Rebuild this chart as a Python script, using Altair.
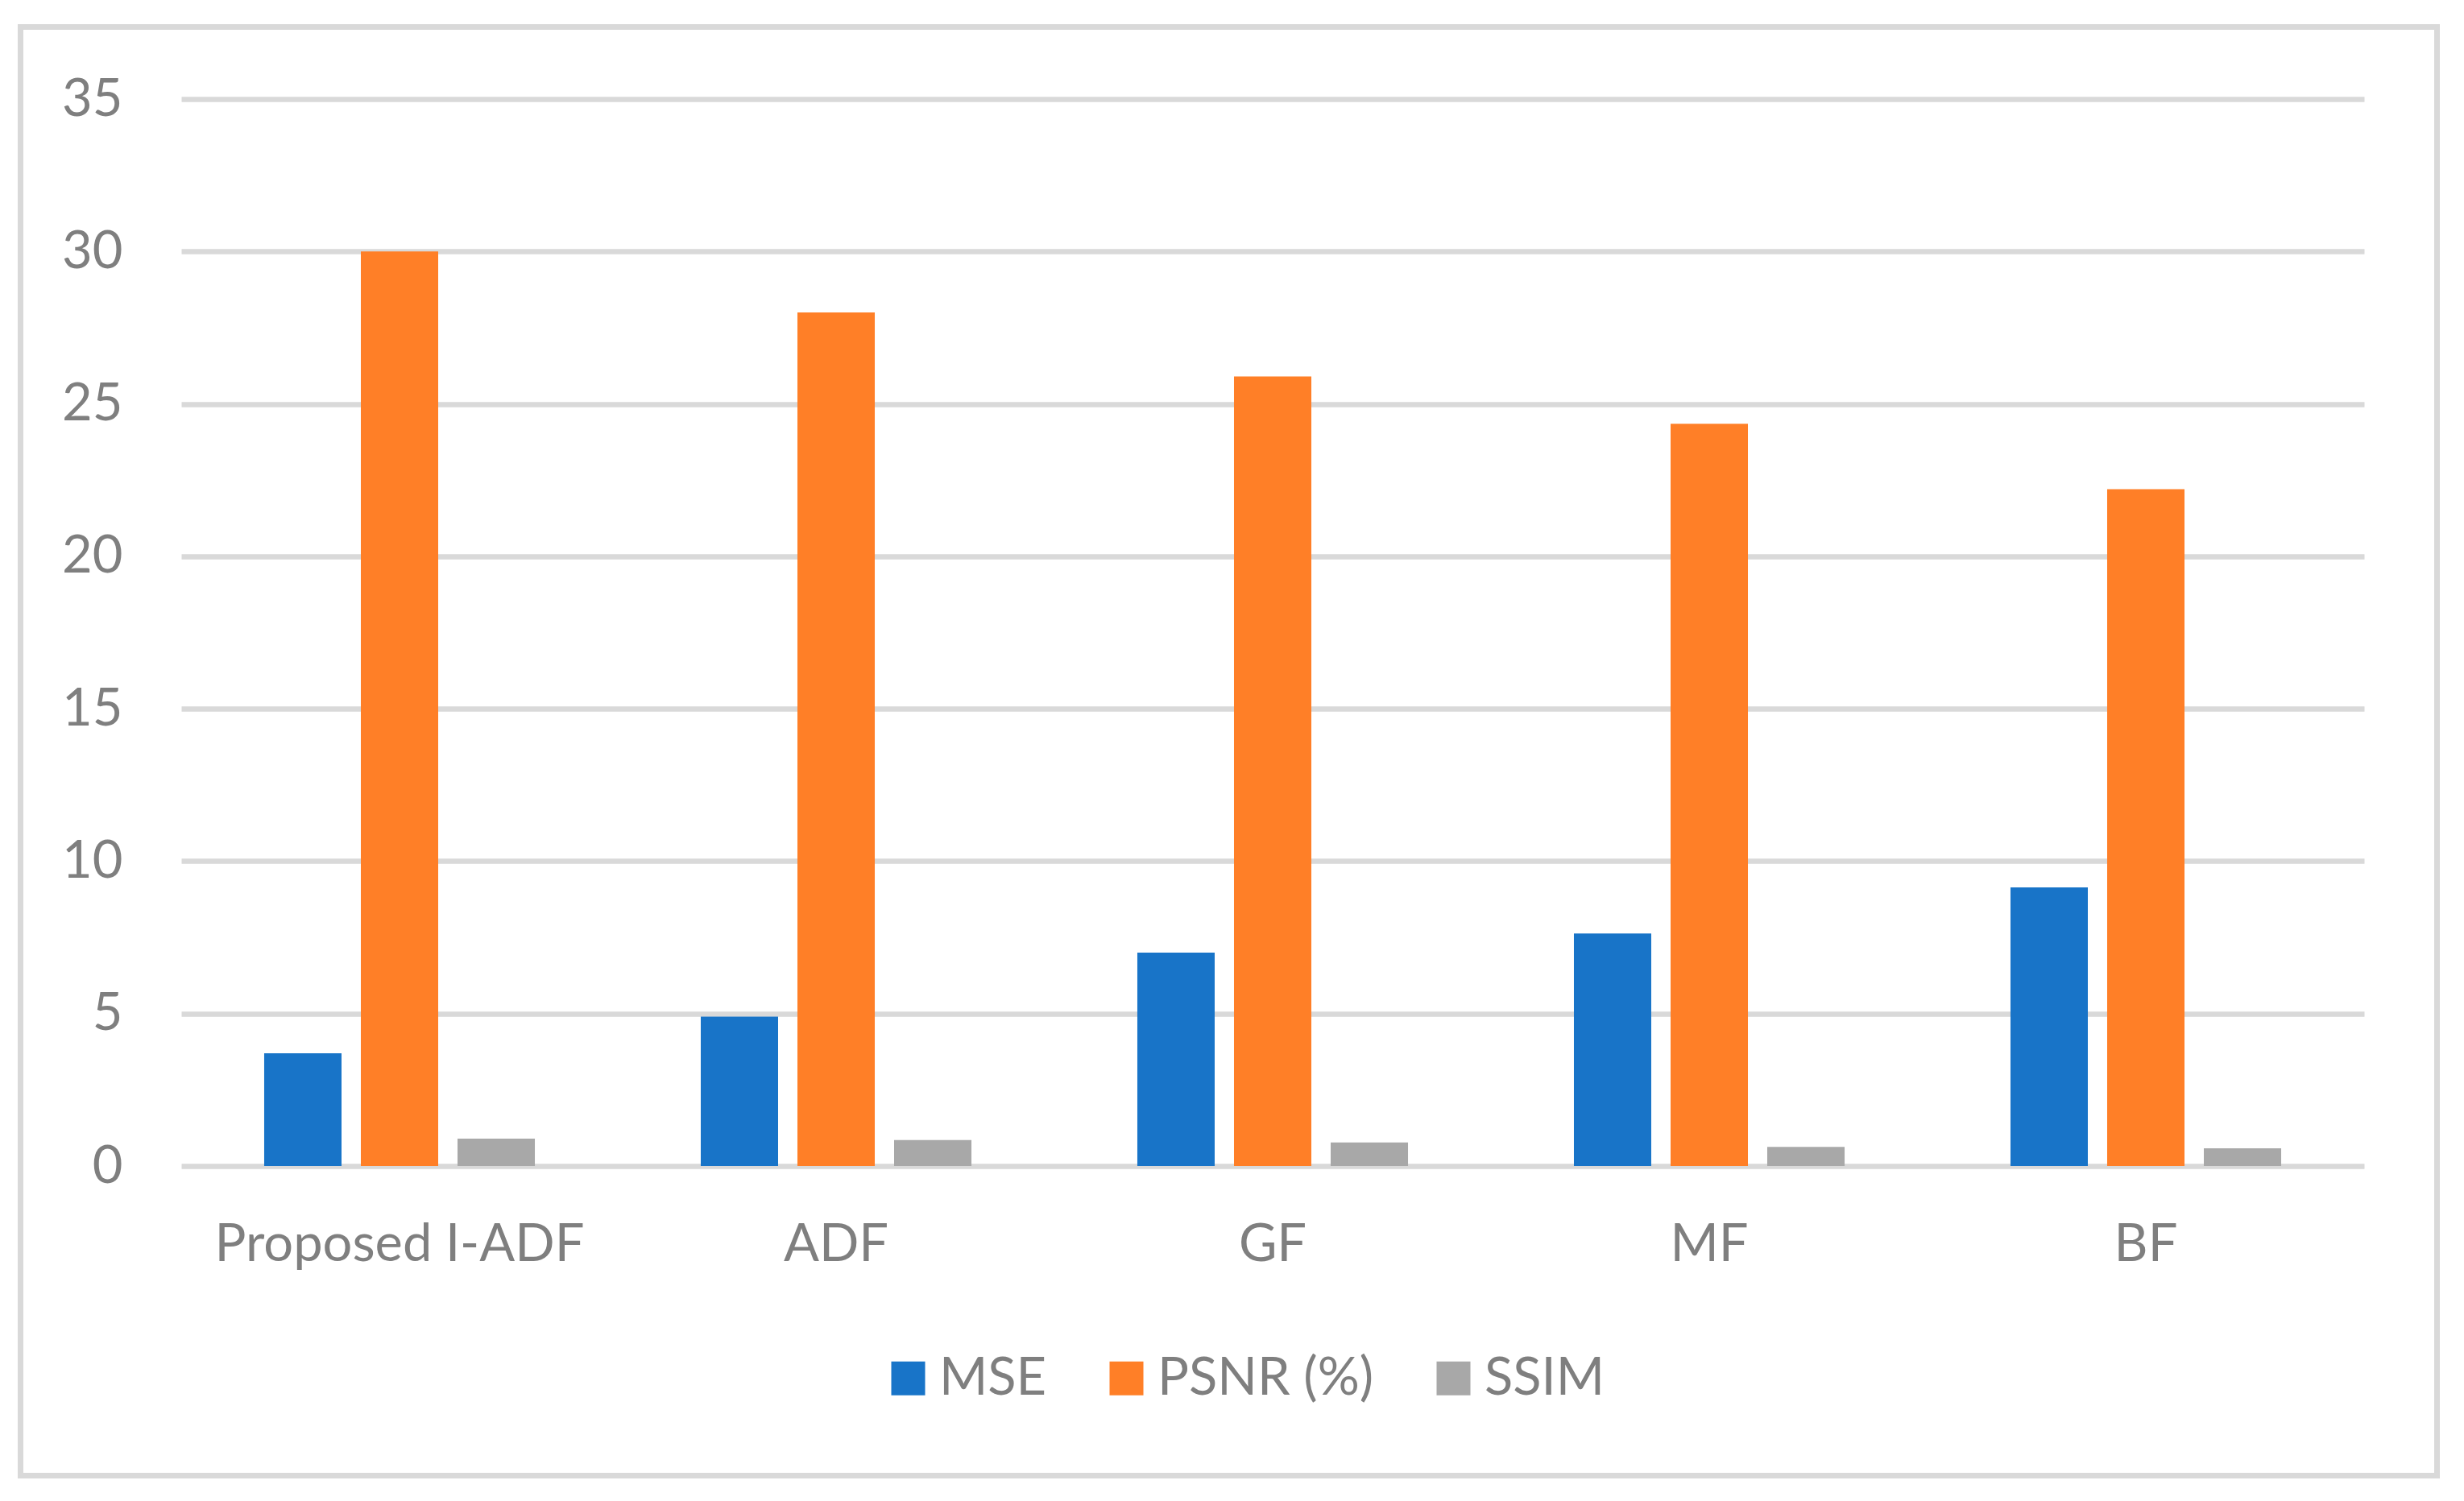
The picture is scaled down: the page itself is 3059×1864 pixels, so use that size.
import altair as alt
import pandas as pd

methods = ["Proposed I-ADF", "ADF", "GF", "MF", "BF"]
series = ["MSE", "PSNR (%)", "SSIM"]
mse = [3.7, 4.9, 7.0, 7.63, 9.14]
psnr = [30.0, 28.0, 25.9, 24.35, 22.2]
ssim = [0.9, 0.85, 0.77, 0.63, 0.58]
colors = ["#1874c8", "#ff7f27", "#a8a8a8"]
y_ticks = [0, 5, 10, 15, 20, 25, 30, 35]

rows = []
for i, m in enumerate(methods):
    for s, vals in zip(series, [mse, psnr, ssim]):
        rows.append({"Method": m, "Metric": s, "Value": vals[i]})
df = pd.DataFrame(rows)

FONT = "Lato"
TXT = "#7f7f7f"
GRID = "#d9d9d9"

bars = alt.Chart(df).mark_bar().encode(
    x=alt.X("Method:N", sort=methods,
            scale=alt.Scale(paddingInner=0.38, paddingOuter=0.19),
            axis=alt.Axis(title=None, labelAngle=0, labelFont=FONT, labelFontSize=65,
                          labelColor=TXT, labelPadding=66, labelLimit=0, ticks=False,
                          domain=False, grid=False)),
    xOffset=alt.XOffset("Metric:N", sort=series,
                        scale=alt.Scale(paddingInner=0.2, paddingOuter=0)),
    y=alt.Y("Value:Q", scale=alt.Scale(domain=[0, 35], nice=False),
            axis=alt.Axis(title=None, values=y_ticks, labelFont=FONT, labelFontSize=65,
                          labelColor=TXT, labelPadding=73, ticks=False, domain=False,
                          grid=True, gridColor=GRID, gridWidth=6.5)),
    color=alt.Color("Metric:N", sort=series,
                    scale=alt.Scale(domain=series, range=colors),
                    legend=alt.Legend(title=None, orient="none", direction="horizontal",
                                      legendX=870, legendY=1556,
                                      symbolType="square", symbolSize=1764,
                                      symbolStrokeWidth=0, labelFont=FONT,
                                      labelFontSize=65, labelColor=TXT, labelLimit=0,
                                      labelOffset=6, columnPadding=66, padding=0)),
)

frame = alt.Chart(pd.DataFrame({"f": [0]})).mark_rect(
    filled=False, stroke=GRID, strokeWidth=7
).encode(
    x=alt.value(-199.5), x2=alt.value(2800.5),
    y=alt.value(-89.5), y2=alt.value(1709.5),
)

chart = alt.layer(frame, bars).properties(
    width=2710, height=1325,
    autosize=alt.AutoSizeParams(type="none"),
    padding={"left": 217, "top": 115, "right": 110, "bottom": 400},
    background="white",
).configure_view(stroke=None)

chart.save("out.html", embed_options={"renderer": "svg", "actions": False})
